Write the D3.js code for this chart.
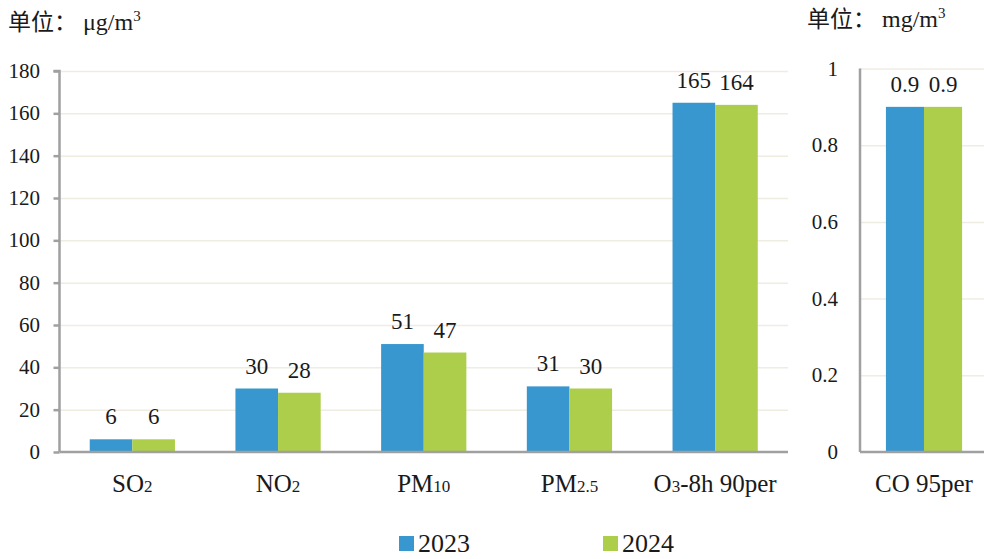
<!DOCTYPE html>
<html>
<head>
<meta charset="utf-8">
<script src="https://cdn.jsdelivr.net/npm/d3@7"></script>
<style>
  html, body { margin: 0; padding: 0; background: #fff; }
  svg { display: block; }
</style>
</head>
<body>
<svg id="chart" width="984" height="559"></svg>
<script>
// ---- data ----
const categories = ["SO2", "NO2", "PM10", "PM2.5", "O3-8h 90per"];
// label parts: [text, isSubscript]
const categoryLabels = [
  [["SO", false], ["2", true]],
  [["NO", false], ["2", true]],
  [["PM", false], ["10", true]],
  [["PM", false], ["2.5", true]],
  [["O", false], ["3", true], ["-8h 90per", false]]
];
const years = ["2023", "2024"];
const values2023 = [6, 30, 51, 31, 165];
const values2024 = [6, 28, 47, 30, 164];
const leftTicks = [0, 20, 40, 60, 80, 100, 120, 140, 160, 180];

const coCategories = ["CO 95per"];
const co2023 = [0.9];
const co2024 = [0.9];
const rightTicks = [0, 0.2, 0.4, 0.6, 0.8, 1];

const colors = ["#3797ce", "#adce4a"];

// ---- chart ----
const SERIF = "'Liberation Serif', 'Times New Roman', Times, serif";
const CJK = "'Noto Sans CJK SC', sans-serif";
const textColor = "#1a1a1a";
const svg = d3.select("#chart");
const gridColor = "#efece2";
const axisColor = "#a0a0a0";

function txt(sel, size) {
  return sel.attr("font-family", SERIF).style("font-family", SERIF)
    .style("font-size", size + "px").attr("fill", textColor);
}

function drawPanel(opts) {
  const { cats, labels, series, ticks, yMax, x0, x1, yTop, yBottom, fmt, tickMarks, tickLabelX } = opts;
  const x = d3.scaleBand().domain(cats).range([x0, x1]).paddingInner(opts.pad).paddingOuter(opts.pad / 2);
  const xs = d3.scaleBand().domain(years).range([0, x.bandwidth()]);
  const y = d3.scaleLinear().domain([0, yMax]).range([yBottom, yTop]);
  const g = svg.append("g");

  // gridlines
  g.append("g").selectAll("line").data(ticks.filter(t => t > 0)).join("line")
    .attr("x1", x0).attr("x2", opts.gridEnd)
    .attr("y1", d => y(d) + 0.5).attr("y2", d => y(d) + 0.5)
    .attr("stroke", gridColor).attr("stroke-width", 1.5);

  // bars
  const rows = cats.map((c, i) => ({ c, vals: series.map(s => s[i]) }));
  const grp = g.append("g").selectAll("g").data(rows).join("g")
    .attr("transform", d => `translate(${x(d.c)},0)`);
  grp.selectAll("rect").data(d => d.vals.map((v, j) => ({ v, yr: years[j], j }))).join("rect")
    .attr("x", d => xs(d.yr)).attr("width", xs.bandwidth())
    .attr("y", d => y(d.v)).attr("height", d => y(0) - y(d.v))
    .attr("fill", d => colors[d.j]);
  txt(grp.selectAll("text.val").data(d => d.vals.map((v, j) => ({ v, yr: years[j] }))).join("text")
    .attr("class", "val")
    .attr("x", d => xs(d.yr) + xs.bandwidth() / 2)
    .attr("y", d => y(d.v) - 15)
    .attr("text-anchor", "middle"), 23)
    .text(d => fmt(d.v));

  // y axis
  const yAxis = d3.axisLeft(y).tickValues(ticks).tickSize(tickMarks ? 6 : 0).tickFormat(() => "");
  const ya = g.append("g").attr("transform", `translate(${x0},0)`).call(yAxis);
  ya.select(".domain").attr("stroke", axisColor).attr("stroke-width", 2.5).attr("d", `M${tickMarks ? -6 : 0},${yTop}H0V${yBottom}`);
  ya.selectAll(".tick line").attr("stroke", axisColor).attr("stroke-width", 2.5);
  txt(g.append("g").selectAll("text").data(ticks).join("text")
    .attr("x", tickLabelX).attr("y", d => y(d) + 7)
    .attr("text-anchor", "end"), 21)
    .text(d => fmt(d));

  // x axis line
  const xAxis = d3.axisBottom(x).tickSize(0).tickFormat(() => "");
  const xa = g.append("g").attr("transform", `translate(0,${yBottom})`).call(xAxis);
  xa.select(".domain").attr("stroke", axisColor).attr("stroke-width", 2.5).attr("d", `M${x0},0H${opts.gridEnd}`);

  // category labels
  txt(g.append("g").selectAll("text").data(cats).join("text")
    .attr("x", d => x(d) + x.bandwidth() / 2)
    .attr("y", 492)
    .attr("text-anchor", "middle"), 25)
    .each(function (d, i) {
      const t = d3.select(this);
      labels[i].forEach(([s, sub]) => {
        t.append("tspan").style("font-size", sub ? "17px" : "25px").text(s);
      });
    });
}

drawPanel({
  cats: categories, labels: categoryLabels, series: [values2023, values2024],
  ticks: leftTicks, yMax: 180, x0: 59.5, x1: 788, gridEnd: 788, yTop: 71, yBottom: 452,
  pad: 0.415, fmt: d => d3.format("d")(d), tickMarks: true, tickLabelX: 40
});
drawPanel({
  cats: coCategories, labels: [[["CO 95per", false]]], series: [co2023, co2024],
  ticks: rightTicks, yMax: 1, x0: 860, x1: 988, gridEnd: 984, yTop: 68.5, yBottom: 452,
  pad: 0.405, fmt: d => d === 0 ? "0" : d3.format("~g")(d), tickMarks: false, tickLabelX: 838
});

// units
function unitLabel(xPos, yPos, unit) {
  const t = txt(svg.append("text").attr("x", xPos).attr("y", yPos), 24);
  t.append("tspan").style("font-family", CJK).style("font-size", "23px").text("单位：");
  t.append("tspan").attr("dx", 6).text(unit);
  t.append("tspan").attr("dy", -9).style("font-size", "15px").text("3");
}
unitLabel(8, 30, "μg/m");
unitLabel(807, 27, "mg/m");

// legend
const legendX = [399, 603];
const lg = svg.append("g").selectAll("g").data(years).join("g")
  .attr("transform", (d, i) => `translate(${legendX[i]},0)`);
lg.append("rect").attr("x", 0).attr("y", 536).attr("width", 15).attr("height", 15)
  .attr("fill", (d, i) => colors[i]);
txt(lg.append("text").attr("x", 19).attr("y", 552), 26).text(d => d);
</script>
</body>
</html>
